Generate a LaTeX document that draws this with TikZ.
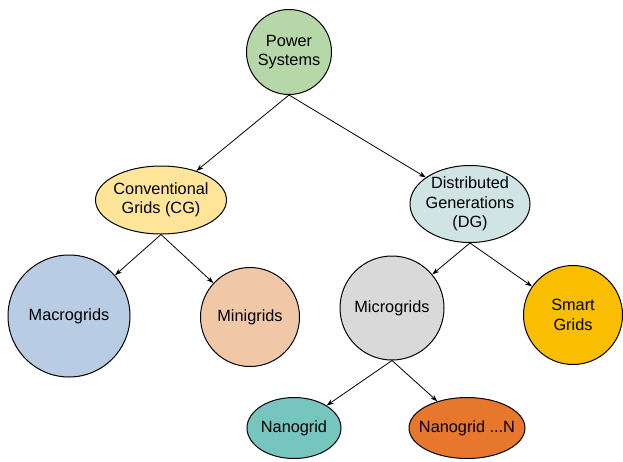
\documentclass[tikz,border=0pt]{standalone}
\usepackage{fontspec}
\setmainfont{Liberation Sans}
\usetikzlibrary{shapes.geometric,arrows.meta}
\definecolor{psgreen}{HTML}{B6D7A8}
\definecolor{cgyellow}{HTML}{FFE599}
\definecolor{dgcyan}{HTML}{D0E4E4}
\definecolor{macroblue}{HTML}{B8CCE4}
\definecolor{minipeach}{HTML}{F0C8A8}
\definecolor{microgray}{HTML}{D9D9D9}
\definecolor{smartgold}{HTML}{F9BE00}
\definecolor{nanoteal}{HTML}{76C5BF}
\definecolor{nanoorange}{HTML}{E8772E}
\tikzset{
  gridnode/.style={draw=black, line width=1pt, align=center, inner sep=0pt,
    font=\fontsize{16.3}{19.5}\selectfont},
  gridcirc/.style={gridnode, circle, minimum size=#1},
  gridoval/.style 2 args={gridnode, ellipse, inner sep=-25pt, minimum width=#1, minimum height=#2},
  link/.style={-{Stealth[length=7pt,width=5pt]}, line width=0.8pt}
}
\begin{document}
\begin{tikzpicture}[x=1pt, y=-1pt]
                \useasboundingbox (0,0) rectangle (623,461);
                % top level
                \node[gridcirc=85pt, fill=psgreen] (ps) at (289,52) {Power\\Systems};
                \node[gridoval={131pt}{68pt}, fill=cgyellow] (cg) at (161,200) {Conventional\\Grids (CG)};
                \node[gridoval={120pt}{77pt}, fill=dgcyan] (dg) at (470,204) {Distributed\\Generations\\(DG)};
                % second level
                \node[gridcirc=122pt, fill=macroblue] (macro) at (69,316) {Macrogrids};
                \node[gridcirc=99pt, fill=minipeach] (mini) at (250,317) {Minigrids};
                \node[gridcirc=104pt, fill=microgray] (micro) at (392,308) {Microgrids};
                \node[gridcirc=99pt, fill=smartgold] (smart) at (573,315) {Smart\\Grids};
                % third level
                \node[gridoval={94pt}{61pt}, fill=nanoteal] (nano) at (294,428) {Nanogrid};
                \node[gridoval={116pt}{61pt}, fill=nanoorange] (nanon) at (467,428) {Nanogrid ...N};
                % links
                \draw[link] (ps.south) -- (cg);
                \draw[link] (ps.south) -- (dg);
                \draw[link] (cg.south) -- (macro);
                \draw[link] (cg.south) -- (mini);
                \draw[link] (dg.south) -- (micro);
                \draw[link] (dg.south) -- (smart);
                \draw[link] (micro.south) -- (nano);
                \draw[link] (micro.south) -- (nanon);
\end{tikzpicture}
\end{document}
